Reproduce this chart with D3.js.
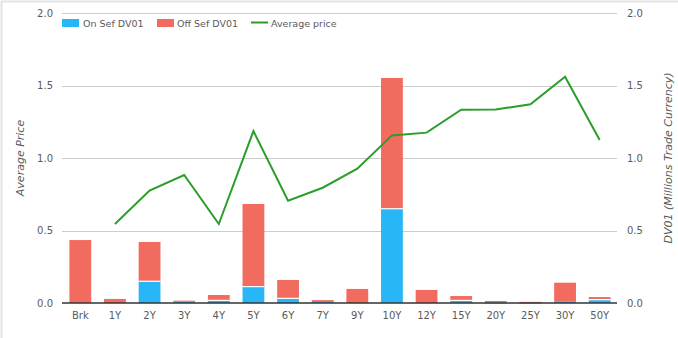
<!DOCTYPE html>
<html>
<head>
<meta charset="utf-8">
<script src="https://cdn.jsdelivr.net/npm/d3@7"></script>
<style>
  html, body { margin: 0; padding: 0; background: #fff; }
  svg { display: block; font-family: "DejaVu Sans", Verdana, sans-serif; }
</style>
</head>
<body>
<svg id="chart" width="678" height="338"></svg>
<script>
// Tenor buckets
const categories = ["Brk", "1Y", "2Y", "3Y", "4Y", "5Y", "6Y", "7Y", "9Y", "10Y", "12Y", "15Y", "20Y", "25Y", "30Y", "50Y"];
// DV01 traded on SEF (millions)
const onSef = [0, 0, 0.15, 0.008, 0.018, 0.113, 0.032, 0.014, 0, 0.65, 0, 0.018, 0.004, 0.003, 0.008, 0.023];
// DV01 traded off SEF (millions)
const offSef = [0.434, 0.028, 0.271, 0.008, 0.037, 0.57, 0.127, 0.006, 0.097, 0.902, 0.09, 0.03, 0.01, 0.005, 0.132, 0.018];
// Average price per bucket (none for Brk)
const avgPrice = [null, 0.545, 0.775, 0.883, 0.545, 1.186, 0.706, 0.795, 0.926, 1.156, 1.175, 1.333, 1.335, 1.37, 1.561, 1.124];
const yTicks = [0, 0.5, 1.0, 1.5, 2.0];

const svg = d3.select("#chart");
const m = { left: 63, right: 617, top: 13, bottom: 303 };
const textColor = "#5a5a5a";

// panel frame
svg.append("rect").attr("x", 1.5).attr("y", 1.5).attr("width", 690).attr("height", 400)
  .attr("fill", "none").attr("stroke", "#e3e3e3").attr("stroke-width", 2);

const x = d3.scaleBand().domain(categories).range([m.left, m.right])
  .paddingInner(0.37).paddingOuter(0.185);
const yLeft = d3.scaleLinear().domain([0, 2]).range([m.bottom, m.top]);
const yRight = d3.scaleLinear().domain([0, 2]).range([m.bottom, m.top]);

// gridlines
svg.append("g").selectAll("line").data(yTicks.filter(t => t > 0)).join("line")
  .attr("x1", m.left - 1).attr("x2", m.right)
  .attr("y1", d => Math.round(yLeft(d)) + 0.5).attr("y2", d => Math.round(yLeft(d)) + 0.5)
  .attr("stroke", "#cccccc").attr("stroke-width", 1);

// left axis
const leftAxis = svg.append("g").attr("transform", `translate(${m.left - 1},0)`)
  .call(d3.axisLeft(yLeft).tickValues(yTicks).tickFormat(d3.format(".1f")).tickSize(0).tickPadding(9));
leftAxis.select(".domain").remove();
leftAxis.selectAll("text").attr("font-size", 10).attr("fill", textColor).attr("font-family", "DejaVu Sans, sans-serif");

// right axis
const rightAxis = svg.append("g").attr("transform", `translate(${m.right},0)`)
  .call(d3.axisRight(yRight).tickValues(yTicks).tickFormat(d3.format(".1f")).tickSize(0).tickPadding(10));
rightAxis.select(".domain").remove();
rightAxis.selectAll("text").attr("font-size", 10).attr("fill", textColor).attr("font-family", "DejaVu Sans, sans-serif");

// stacked bars
const stackData = categories.map((c, i) => ({ cat: c, on: onSef[i], off: offSef[i] }));
const series = d3.stack().keys(["on", "off"])(stackData);
const colors = { on: "#29b6f6", off: "#f26b5f" };
const bars = svg.append("g");
bars.selectAll("g").data(series).join("g")
  .attr("fill", s => colors[s.key])
  .selectAll("rect").data(s => s.filter(d => d[1] - d[0] > 0)).join("rect")
  .attr("x", d => x(d.data.cat))
  .attr("width", x.bandwidth())
  .attr("y", d => yRight(d[1]))
  .attr("height", d => Math.max(1, yRight(d[0]) - yRight(d[1])));

// white separator between the two stacked segments
bars.append("g").selectAll("line")
  .data(stackData.filter(d => yRight(0) - yRight(d.on) > 2 && yRight(0) - yRight(d.off) > 2))
  .join("line")
  .attr("x1", d => x(d.cat)).attr("x2", d => x(d.cat) + x.bandwidth())
  .attr("y1", d => yRight(d.on)).attr("y2", d => yRight(d.on))
  .attr("stroke", "#fff").attr("stroke-width", 1.2);

// bottom axis
const bottomAxis = svg.append("g").attr("transform", `translate(0,${m.bottom})`)
  .call(d3.axisBottom(x).tickSize(0).tickPadding(9));
bottomAxis.select(".domain").attr("stroke", "#333").attr("stroke-width", 1.5)
  .attr("d", `M${m.left - 1},0H${m.right}`);
bottomAxis.selectAll("text").attr("font-size", 10).attr("fill", textColor).attr("font-family", "DejaVu Sans, sans-serif");

// average price line
const line = d3.line()
  .defined(d => d.v != null)
  .x(d => x(d.cat) + x.bandwidth() / 2)
  .y(d => yLeft(d.v));
svg.append("path")
  .datum(categories.map((c, i) => ({ cat: c, v: avgPrice[i] })))
  .attr("d", line).attr("fill", "none")
  .attr("stroke", "#2a9d2a").attr("stroke-width", 2).attr("stroke-linejoin", "miter");

// axis titles
svg.append("text").attr("transform", "translate(24,158) rotate(-90)")
  .attr("text-anchor", "middle").attr("font-size", 11).attr("font-style", "italic")
  .attr("fill", textColor).text("Average Price");
svg.append("text").attr("transform", "translate(672,158) rotate(-90)")
  .attr("text-anchor", "middle").attr("font-size", 11).attr("font-style", "italic")
  .attr("fill", textColor).text("DV01 (Millions Trade Currency)");

// legend
const legend = svg.append("g").attr("font-size", 9.5).attr("fill", textColor);
legend.append("rect").attr("x", 62).attr("y", 19).attr("width", 17).attr("height", 8).attr("fill", colors.on);
legend.append("text").attr("x", 83).attr("y", 26.5).text("On Sef DV01");
legend.append("rect").attr("x", 157).attr("y", 19).attr("width", 17).attr("height", 8).attr("fill", colors.off);
legend.append("text").attr("x", 177).attr("y", 26.5).text("Off Sef DV01");
legend.append("line").attr("x1", 251).attr("x2", 268).attr("y1", 22.5).attr("y2", 22.5)
  .attr("stroke", "#2a9d2a").attr("stroke-width", 2);
legend.append("text").attr("x", 271).attr("y", 26.5).text("Average price");
</script>
</body>
</html>
